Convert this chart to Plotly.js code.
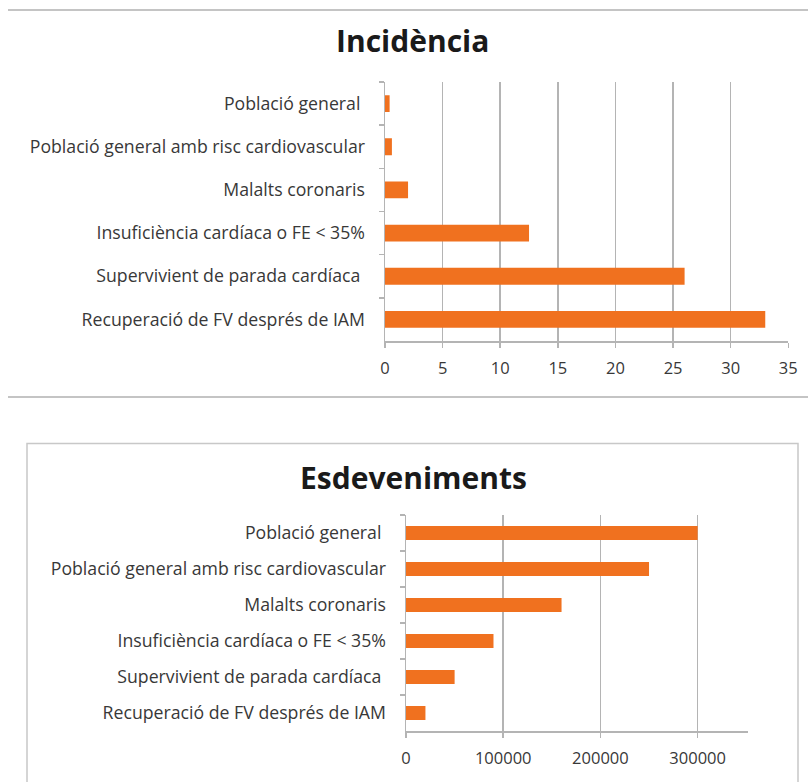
<!DOCTYPE html>
<html>
<head>
<meta charset="utf-8">
<script src="https://cdn.plot.ly/plotly-3.0.1.min.js"></script>
<style>
  html, body { margin: 0; padding: 0; background: #ffffff; }
  #chart { width: 808px; height: 782px; }
</style>
</head>
<body>
<div id="chart"></div>
<script>
// Patient groups (same order in both panels, top to bottom)
const categories = [
  'Població general\u00a0',
  'Població general amb risc cardiovascular',
  'Malalts coronaris',
  'Insuficiència cardíaca o FE < 35%',
  'Supervivient de parada cardíaca\u00a0',
  'Recuperació de FV després de IAM'
];

// Incidence (%) per group
const incidencia = [0.4, 0.6, 2, 12.5, 26, 33];

// Number of events per group
const esdeveniments = [300000, 250000, 160000, 90000, 50000, 20000];

// Axis ticks
const incidenciaTicks = [0, 5, 10, 15, 20, 25, 30, 35];
const esdevenimentsTicks = [0, 100000, 200000, 300000];

const W = 808, H = 782;
const px = x => x / W;
const py = y => 1 - y / H;

const FONT = '"Open Sans", Lato, sans-serif';
const ORANGE = '#F0711F';
const GRID = '#b4b4b4';
const LABEL = '#383838';

const traces = [
  {
    type: 'bar', orientation: 'h',
    x: incidencia, y: categories,
    xaxis: 'x', yaxis: 'y',
    marker: { color: ORANGE },
    hoverinfo: 'none'
  },
  {
    type: 'bar', orientation: 'h',
    x: esdeveniments, y: categories,
    xaxis: 'x2', yaxis: 'y2',
    marker: { color: ORANGE },
    hoverinfo: 'none'
  }
];

const xCommon = {
  showgrid: true, gridcolor: GRID, gridwidth: 1.5,
  showline: true, linecolor: GRID, linewidth: 1.5,
  ticks: 'outside', ticklen: 5, tickcolor: GRID, tickwidth: 1.5,
  zeroline: false,
  tickfont: { family: FONT, size: 16.5, color: LABEL },
  ticklabelstandoff: 7,
  fixedrange: true
};
const yCommon = {
  type: 'category',
  autorange: 'reversed',
  showgrid: false,
  showline: true, linecolor: GRID, linewidth: 1.5,
  ticks: 'outside', ticklen: 5, tickcolor: GRID, tickwidth: 1.5,
  tickson: 'boundaries',
  tickfont: { family: FONT, size: 17.7, color: LABEL },
  ticklabelstandoff: 15,
  fixedrange: true
};

const layout = {
  width: W, height: H,
  margin: { l: 0, r: 0, t: 0, b: 0 },
  paper_bgcolor: '#ffffff',
  plot_bgcolor: 'rgba(0,0,0,0)',
  showlegend: false,
  bargap: 0.61,
  xaxis: Object.assign({}, xCommon, {
    domain: [px(385), px(788.3)],
    range: [0, 35],
    tickvals: incidenciaTicks,
    anchor: 'y'
  }),
  yaxis: Object.assign({}, yCommon, {
    domain: [py(341), py(82)],
    anchor: 'x'
  }),
  xaxis2: Object.assign({}, xCommon, {
    domain: [px(406), px(747.7)],
    range: [0, 351500],
    tickvals: esdevenimentsTicks,
    ticktext: esdevenimentsTicks.map(String),
    anchor: 'y2'
  }),
  yaxis2: Object.assign({}, yCommon, {
    domain: [py(731), py(515)],
    anchor: 'x2'
  }),
  annotations: [
    {
      text: '<b>Incidència</b>', xref: 'paper', yref: 'paper',
      x: px(412), y: py(41), xanchor: 'center', yanchor: 'middle',
      showarrow: false, font: { family: FONT, size: 30, color: '#1a1a1a' }
    },
    {
      text: '<b>Esdeveniments</b>', xref: 'paper', yref: 'paper',
      x: px(413), y: py(477), xanchor: 'center', yanchor: 'middle',
      showarrow: false, font: { family: FONT, size: 30, color: '#1a1a1a' }
    }
  ],
  shapes: [
    // separator rules around the first panel
    { type: 'line', xref: 'paper', yref: 'paper', x0: px(8), x1: 1, y0: py(10), y1: py(10),
      line: { color: '#c4c4c4', width: 2 } },
    { type: 'line', xref: 'paper', yref: 'paper', x0: px(8), x1: 1, y0: py(397), y1: py(397),
      line: { color: '#c4c4c4', width: 2 } },
    // frame of the second panel
    { type: 'rect', xref: 'paper', yref: 'paper', x0: px(27), x1: px(798), y0: py(800), y1: py(443.5),
      line: { color: '#c8c8c8', width: 1.5 }, fillcolor: 'rgba(0,0,0,0)', layer: 'below' }
  ]
};

Plotly.newPlot('chart', traces, layout, { staticPlot: true, displayModeBar: false });
</script>
</body>
</html>
